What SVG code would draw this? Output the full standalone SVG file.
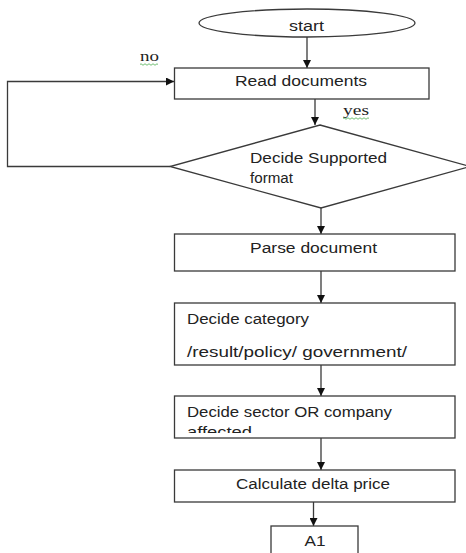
<svg xmlns="http://www.w3.org/2000/svg" width="466" height="553" viewBox="0 0 466 553">
<style>
.box{fill:#fff;stroke:#3a3a3a;stroke-width:1.3}
.ln{fill:none;stroke:#3a3a3a;stroke-width:1.3}
.t{font-family:"Liberation Sans",Arial,sans-serif;font-size:14px;fill:#222}
.s{font-family:"Liberation Serif","Times New Roman",serif;font-size:15px;fill:#222}
.sq{fill:none;stroke:#4caf50;stroke-width:0.8}
</style>
<defs>
<marker id="ah" viewBox="0 0 10 10" refX="10" refY="5" markerWidth="8" markerHeight="8" markerUnits="userSpaceOnUse" orient="auto">
<path d="M0,0 L10,5 L0,10 z" fill="#111"/>
</marker>
<clipPath id="c5"><rect x="174" y="396" width="282" height="37"/></clipPath>
</defs>
<rect width="466" height="553" fill="#fff"/>
<g id="connectors">
<line class="ln" x1="307" y1="37" x2="307" y2="68" marker-end="url(#ah)"/>
<line class="ln" x1="315" y1="99" x2="315" y2="125" marker-end="url(#ah)"/>
<polyline class="ln" points="170,166.5 7.5,166.5 7.5,81.5 174,81.5" marker-end="url(#ah)"/>
<line class="ln" x1="321" y1="208" x2="321" y2="234" marker-end="url(#ah)"/>
<line class="ln" x1="321" y1="271" x2="321" y2="303" marker-end="url(#ah)"/>
<line class="ln" x1="321" y1="365" x2="321" y2="396" marker-end="url(#ah)"/>
<line class="ln" x1="321" y1="438" x2="321" y2="470" marker-end="url(#ah)"/>
<line class="ln" x1="313.5" y1="502" x2="313.5" y2="526" marker-end="url(#ah)"/>
<text class="s" x="140" y="61" textLength="19" lengthAdjust="spacingAndGlyphs">no</text>
<path class="sq" d="M140,64.5 q1,-1.5 2,0 t2,0 t2,0 t2,0 t2,0 t2,0 t2,0 t2,0 t2,0"/>
<text class="s" x="343" y="115" textLength="26" lengthAdjust="spacingAndGlyphs">yes</text>
<path class="sq" d="M343,118.5 q1,-1.5 2,0 t2,0 t2,0 t2,0 t2,0 t2,0 t2,0 t2,0 t2,0 t2,0 t2,0 t2,0 t2,0"/>
</g>
<g id="start">
<ellipse class="box" cx="307" cy="23" rx="108" ry="14"/>
<text class="t" x="306.5" y="30.5" text-anchor="middle" textLength="35" lengthAdjust="spacingAndGlyphs">start</text>
</g>
<g id="read">
<rect class="box" x="174.5" y="68" width="254.5" height="31"/>
<text class="t" x="301" y="86" text-anchor="middle" textLength="132" lengthAdjust="spacingAndGlyphs">Read documents</text>
</g>
<g id="decide-format">
<polygon class="box" points="320,125 470,166.5 321,208 170,166.5"/>
<text class="t" x="250" y="163" textLength="137" lengthAdjust="spacingAndGlyphs">Decide Supported</text>
<text class="t" x="250" y="183" textLength="43" lengthAdjust="spacingAndGlyphs">format</text>
</g>
<g id="parse">
<rect class="box" x="174.5" y="234" width="280.5" height="37"/>
<text class="t" x="313.5" y="253" text-anchor="middle" textLength="127" lengthAdjust="spacingAndGlyphs">Parse document</text>
</g>
<g id="category">
<rect class="box" x="174.5" y="303" width="280.5" height="62"/>
<text class="t" x="187" y="324" textLength="122" lengthAdjust="spacingAndGlyphs">Decide category</text>
<text class="t" x="187" y="357" textLength="220" lengthAdjust="spacingAndGlyphs">/result/policy/ government/</text>
</g>
<g id="sector">
<rect class="box" x="174.5" y="396" width="280.5" height="42"/>
<text class="t" x="187" y="417" textLength="205" lengthAdjust="spacingAndGlyphs">Decide sector OR company</text>
<text class="t" x="187" y="437" clip-path="url(#c5)" textLength="65" lengthAdjust="spacingAndGlyphs">affected</text>
</g>
<g id="calc">
<rect class="box" x="174.5" y="470" width="280.5" height="32"/>
<text class="t" x="313" y="489" text-anchor="middle" textLength="154" lengthAdjust="spacingAndGlyphs">Calculate delta price</text>
</g>
<g id="a1">
<rect class="box" x="271" y="526" width="87" height="40"/>
<text class="t" x="315" y="546" text-anchor="middle" textLength="21" lengthAdjust="spacingAndGlyphs">A1</text>
</g>
</svg>
